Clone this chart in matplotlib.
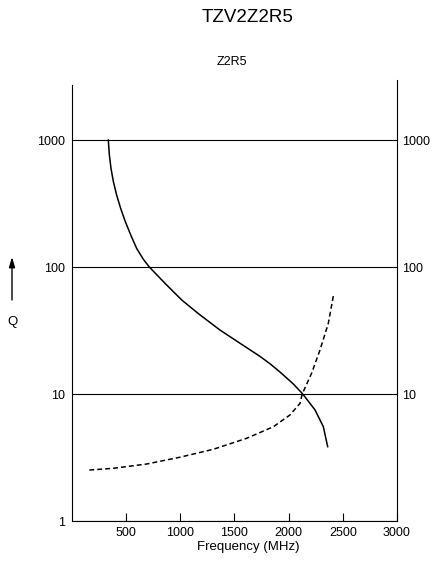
import matplotlib
matplotlib.use("Agg")
import matplotlib.pyplot as plt

plt.rcParams["font.family"] = ["Liberation Sans", "DejaVu Sans"]

# solid curve: Q falling with frequency
freq_solid = [335, 345, 360, 382, 412, 449, 492, 542, 597, 659, 714, 858,
              1013, 1166, 1366, 1551, 1735, 1828, 1920, 2043, 2130, 2243,
              2320, 2360]
q_solid = [1000, 762, 598, 470, 369, 290, 228, 179, 140, 115, 100, 74.5,
           55, 43, 31.9, 25.1, 19.8, 17.3, 14.9, 12.0, 10, 7.5,
           5.53, 3.85]

# dashed curve: rising
freq_dash = [160, 381, 689, 997, 1304, 1612, 1858, 2012, 2105, 2125,
             2212, 2289, 2366, 2412]
q_dash = [2.52, 2.60, 2.81, 3.18, 3.67, 4.48, 5.52, 6.84, 8.45, 10,
          14.6, 22.2, 36, 59]

x_ticks = [500, 1000, 1500, 2000, 2500, 3000]
y_ticks_left = [1, 10, 100, 1000]
y_ticks_right = [10, 100, 1000]

W, H = 438, 575
fig = plt.figure(figsize=(W / 100, H / 100), dpi=100)
ax = fig.add_axes([72 / W, 1 - 521 / H, 325 / W, 436 / H])

ax.plot(freq_solid, q_solid, color="black", lw=1.1)
ax.plot(freq_dash, q_dash, color="black", lw=1.1, linestyle=(0, (3.2, 2)))

ax.set_yscale("log")
ax.set_xlim(0, 3000)
ax.set_ylim(1, 2714)
ax.minorticks_off()
ax.set_yticks(y_ticks_left)
ax.set_yticklabels([str(v) for v in y_ticks_left])
ax.set_xticks(x_ticks)
ax.set_xticklabels([str(v) for v in x_ticks])
ax.grid(axis="y", color="black", lw=0.8)

ax.tick_params(axis="x", direction="in", length=6, width=0.8, pad=4,
               labelsize=9)
ax.tick_params(axis="y", length=0, pad=5, labelsize=9)

for side in ["left", "right", "bottom"]:
    ax.spines[side].set_linewidth(0.8)
ax.spines["top"].set_visible(False)
ax.spines["right"].set_bounds(1, 2950)

ax2 = ax.twinx()
ax2.set_yscale("log")
ax2.set_ylim(ax.get_ylim())
ax2.minorticks_off()
ax2.set_yticks(y_ticks_right)
ax2.set_yticklabels([str(v) for v in y_ticks_right])
ax2.tick_params(axis="y", length=0, pad=3.5, labelsize=9)
for s in ax2.spines.values():
    s.set_visible(False)

fig.text(248 / W, 1 - 18 / H, "TZV2Z2R5", ha="center", va="center", fontsize=13.5)
fig.text(232 / W, 1 - 62 / H, "Z2R5", ha="center", va="center", fontsize=9)
fig.text(248 / W, 1 - 547 / H, "Frequency (MHz)", ha="center", va="center",
         fontsize=9.5)
fig.text(12 / W, 1 - 322 / H, "Q", ha="center", va="center", fontsize=9.5)
ax.annotate("", xy=(12 / W, 1 - 257 / H), xytext=(12 / W, 1 - 300 / H),
            xycoords="figure fraction", textcoords="figure fraction",
            arrowprops=dict(arrowstyle="-|>,head_length=0.6,head_width=0.18",
                            color="black", lw=1, shrinkA=0, shrinkB=0))

fig.savefig("out.png", dpi=100)
